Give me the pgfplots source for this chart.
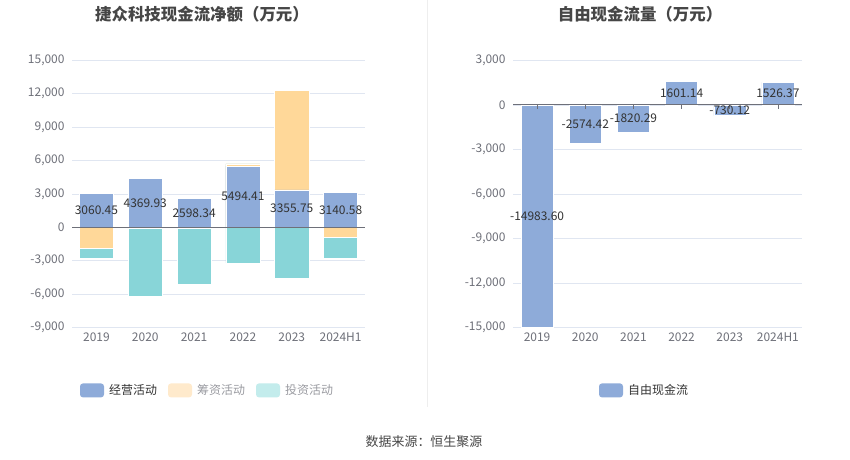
\documentclass[border=0pt]{standalone}
\usepackage{fontspec}
\setmainfont{Noto Sans CJK SC}
\usepackage{pgfplots}
\usepackage{pgfplotstable}
\pgfplotsset{compat=1.18}
\definecolor{opc}{HTML}{8EABD9}
\definecolor{finc}{HTML}{FFD899}
\definecolor{invc}{HTML}{88D5D8}
\definecolor{finl}{HTML}{FFEACC}
\definecolor{invl}{HTML}{C3ECEC}
\definecolor{gridc}{HTML}{E0E6F1}
\definecolor{tickc}{HTML}{6E7079}
\definecolor{titlec}{HTML}{464646}
\definecolor{labc}{HTML}{333333}
\definecolor{sepc}{HTML}{EEEEEE}

\pgfplotstableread{
x op fin inv
0 3060.45 -1860 -900
1 4369.93 -60 -6180
2 2598.34 -90 -5070
3 5494.41 210 -3210
4 3355.75 8944 -4590
5 3140.58 -900 -1860
}\cashtbl

\pgfplotstableread{
x fcf
0 -14983.60
1 -2574.42
2 -1820.29
3 1601.14
4 -730.12
5 1526.37
}\fcftbl

\pgfplotsset{
  mystyle/.style={
    scale only axis, anchor=south west,
    xmin=-0.5, xmax=5.5,
    xtick={0,...,5},
    xticklabels={2019,2020,2021,2022,2023,2024H1},
    axis line style={draw=none},
    major tick length=0pt,
    ymajorgrids, grid style={color=gridc, line width=0.6pt},
    tick label style={font=\fontsize{12}{14}\selectfont, text=tickc},
    xticklabel style={yshift=-2bp},
    yticklabel style={xshift=-4bp},
    /pgf/number format/assume math mode=true,
    /pgf/number format/1000 sep={,},
    scaled y ticks=false,
    clip=false,
  },
  labstyle/.style={
    only marks, mark=none,
    nodes near coords={\pgfmathprintnumber[fixed,fixed zerofill,precision=2,1000 sep={}]{\pgfplotspointmeta}},
    nodes near coords align={center},
    every node near coord/.append style={font=\fontsize{12}{14}\selectfont, text=labc, anchor=center, inner sep=0.5pt},
  },
}

\begin{document}
\begin{tikzpicture}
\path[fill=white] (0bp,0bp) rectangle (850bp,459bp);
\draw[color=sepc, line width=0.8bp] (427.5bp,459bp) -- (427.5bp,52bp);

\node[font=\bfseries\fontsize{16.5}{18}\selectfont, text=titlec] at (202bp,445bp) {捷众科技现金流净额（万元）};
\node[font=\bfseries\fontsize{16.5}{18}\selectfont, text=titlec] at (640bp,445bp) {自由现金流量（万元）};

\begin{axis}[mystyle, at={(72bp,132bp)}, width=293bp, height=267bp,
  ymin=-9000, ymax=15000, ytick={-9000,-6000,...,15000},
  ybar, bar width=34bp, bar shift=0pt]
  \addplot[fill=invc, draw=white, line width=0.5bp] table[x=x, y expr={max(\thisrow{op},0)+max(\thisrow{fin},0)+max(\thisrow{inv},0)}] {\cashtbl};
  \addplot[fill=invc, draw=white, line width=0.5bp] table[x=x, y expr={min(\thisrow{op},0)+min(\thisrow{fin},0)+min(\thisrow{inv},0)}] {\cashtbl};
  \addplot[fill=finc, draw=white, line width=0.5bp] table[x=x, y expr={max(\thisrow{op},0)+max(\thisrow{fin},0)}] {\cashtbl};
  \addplot[fill=finc, draw=white, line width=0.5bp] table[x=x, y expr={min(\thisrow{op},0)+min(\thisrow{fin},0)}] {\cashtbl};
  \addplot[fill=opc, draw=white, line width=0.5bp] table[x=x, y expr={max(\thisrow{op},0)}] {\cashtbl};
  \addplot[fill=opc, draw=white, line width=0.5bp] table[x=x, y expr={min(\thisrow{op},0)}] {\cashtbl};
  \draw[color=tickc, line width=0.8bp] (axis cs:-0.5,0) -- (axis cs:5.5,0);
  \addplot[labstyle, point meta=explicit] table[x=x, y expr={\thisrow{op}/2}, meta=op] {\cashtbl};
\end{axis}

\begin{axis}[mystyle, at={(513bp,132bp)}, width=289bp, height=267bp,
  ymin=-15000, ymax=3000, ytick={-15000,-12000,...,3000},
  ybar, bar width=32bp, bar shift=0pt]
  \addplot[fill=opc, draw=white, line width=0.5bp] table[x=x, y=fcf] {\fcftbl};
  \draw[color=tickc, line width=0.8bp] (axis cs:-0.5,0) -- (axis cs:5.5,0);
  \pgfplotsinvokeforeach{0,...,5}{\draw[color=tickc, line width=0.8bp] (axis cs:#1,0) -- ([yshift=-4bp]axis cs:#1,0);}
  \addplot[labstyle, point meta=explicit] table[x=x, y expr={\thisrow{fcf}/2}, meta=fcf] {\fcftbl};
\end{axis}

\begin{scope}[font=\fontsize{12}{14}\selectfont]
\fill[opc, rounded corners=3bp] (80bp,62bp) rectangle (104bp,76bp);
\node[anchor=west, text=labc, inner sep=0pt] at (109bp,69bp) {经营活动};
\fill[finl, rounded corners=3bp] (168bp,62bp) rectangle (192bp,76bp);
\node[anchor=west, text=tickc!70, inner sep=0pt] at (197bp,69bp) {筹资活动};
\fill[invl, rounded corners=3bp] (256bp,62bp) rectangle (280bp,76bp);
\node[anchor=west, text=tickc!70, inner sep=0pt] at (285bp,69bp) {投资活动};
\fill[opc, rounded corners=3bp] (599bp,62bp) rectangle (623bp,76bp);
\node[anchor=west, text=labc, inner sep=0pt] at (628bp,69bp) {自由现金流};
\end{scope}

\node[font=\fontsize{13}{15}\selectfont, text=titlec] at (424bp,18bp) {数据来源：恒生聚源};
\end{tikzpicture}
\end{document}
